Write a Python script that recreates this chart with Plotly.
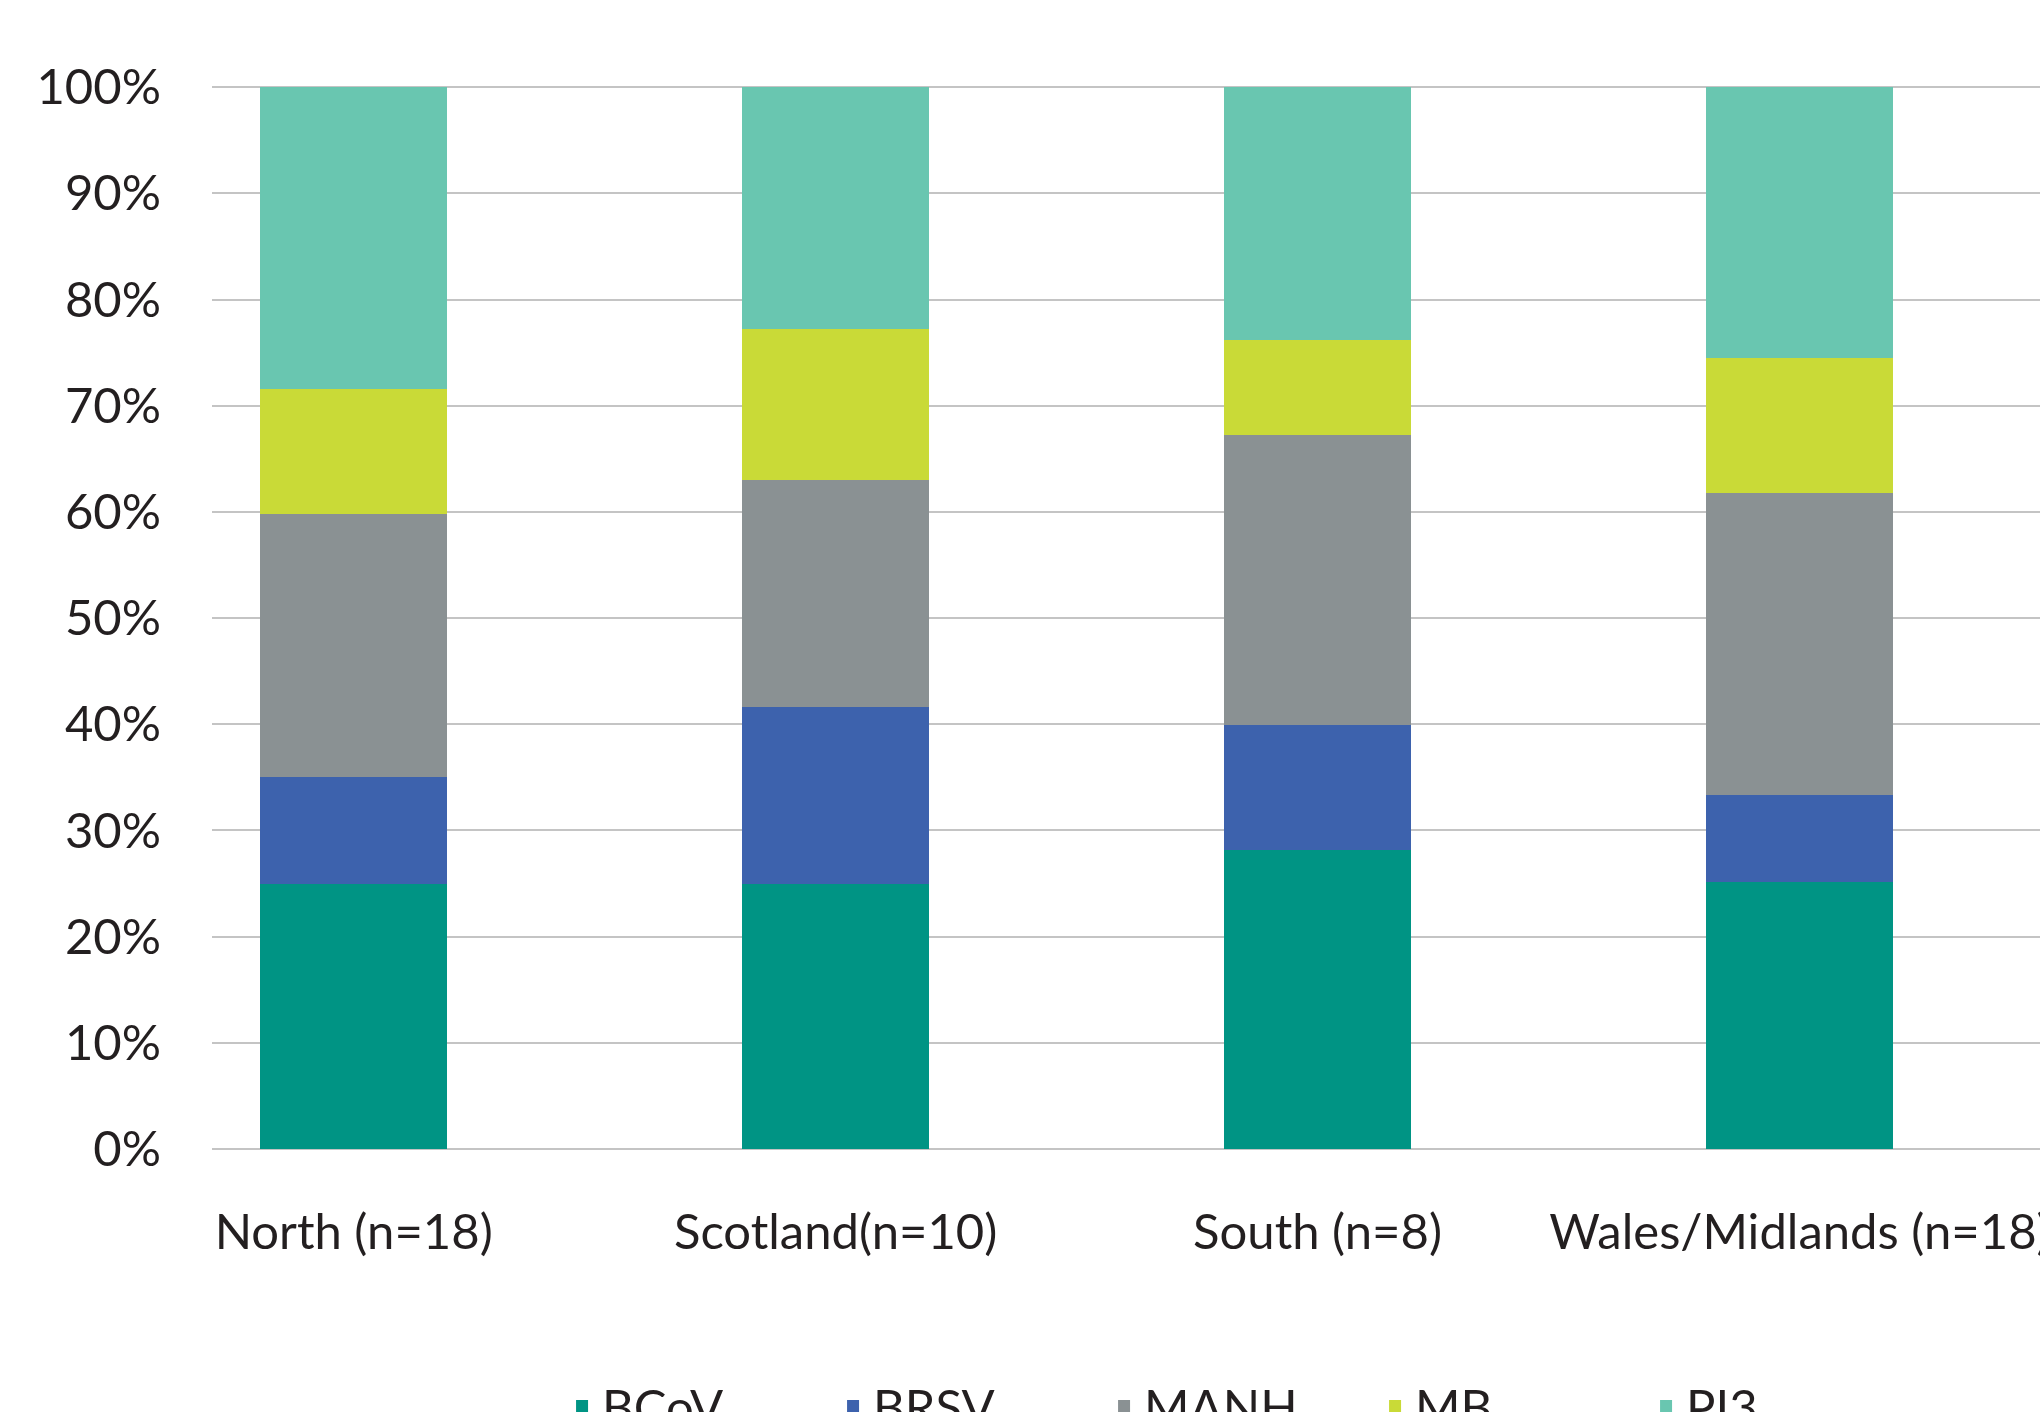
import plotly.graph_objects as go

regions = ["North (n=18)", "Scotland(n=10)", "South (n=8)", "Wales/Midlands (n=18)"]
pathogens = ["BCoV", "BRSV", "MANH", "MB", "PI3"]
bcov = [25.0, 25.0, 28.2, 25.1]
brsv = [10.0, 16.6, 11.7, 8.2]
manh = [24.8, 21.4, 27.3, 28.5]
mb = [11.8, 14.2, 9.0, 12.7]
pi3 = [28.4, 22.8, 23.8, 25.5]
series = [bcov, brsv, manh, mb, pi3]
colors = ["#009484", "#3D62AD", "#8A9193", "#C9DA37", "#69C6B0"]
y_ticks = [0, 10, 20, 30, 40, 50, 60, 70, 80, 90, 100]
y_labels = [f"{v}%" for v in y_ticks]

FONT = "Lato"
TXT = "#231F20"

fig = go.Figure()
for name, vals, col in zip(pathogens, series, colors):
    fig.add_trace(go.Bar(
        x=regions, y=vals, name=name, width=0.388,
        marker=dict(color=col, line=dict(width=0)),
    ))

fig.update_layout(
    width=2040, height=1412,
    barmode="stack",
    paper_bgcolor="white", plot_bgcolor="white",
    margin=dict(l=212, r=0, t=85, b=263, autoexpand=False),
    font=dict(family=FONT, size=49, color=TXT),
    showlegend=True,
    legend=dict(
        orientation="h", traceorder="normal",
        x=0.1915, xanchor="left", y=-0.2055, yanchor="top",
        entrywidth=226, entrywidthmode="pixels",
        font=dict(family=FONT, size=49, color=TXT),
        itemclick=False,
    ),
    xaxis=dict(
        type="category", range=[-0.294, 3.499],
        showgrid=False, showline=False, zeroline=False,
        ticks="", ticklabelstandoff=50,
        tickfont=dict(family=FONT, size=49, color=TXT),
    ),
    yaxis=dict(
        range=[0, 100.2], tickvals=y_ticks, ticktext=y_labels,
        showgrid=True, gridcolor="#C4C4C4", gridwidth=2,
        zeroline=True, zerolinecolor="#C4C4C4", zerolinewidth=2,
        showline=False, ticks="", ticklabelstandoff=50,
        tickfont=dict(family=FONT, size=49, color=TXT),
    ),
)

fig.write_html("out.html")
